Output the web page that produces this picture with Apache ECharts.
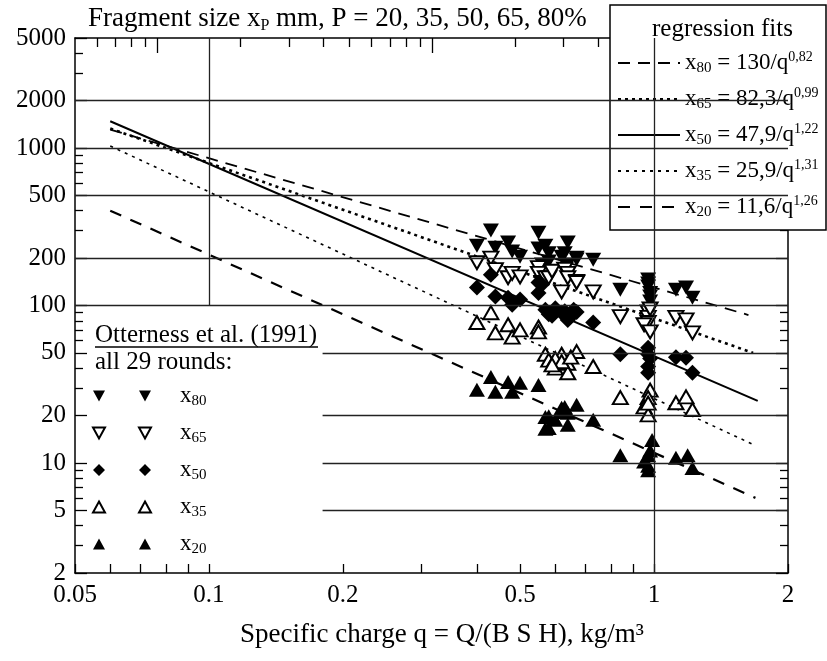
<!DOCTYPE html>
<html><head><meta charset="utf-8">
<script src="https://cdn.jsdelivr.net/npm/echarts@6/dist/echarts.min.js"></script>
<style>html,body{margin:0;padding:0;background:#fff}#c{width:827px;height:661px}</style>
</head><body><div id="c"></div>
<script>
// ---------- axis ticks / labels ----------
const xLabelVals = [0.05, 0.1, 0.2, 0.5, 1, 2];
const xMinorVals = [0.06, 0.07, 0.08, 0.09, 0.3, 0.4, 0.6, 0.7, 0.8, 0.9];
const yLabelVals = [2, 5, 10, 20, 50, 100, 200, 500, 1000, 2000, 5000];
const yMinorVals = [3, 4, 6, 7, 8, 9, 30, 40, 60, 70, 80, 90, 300, 400, 600, 700, 800, 900, 3000, 4000];
const topMajorVals = [1, 10, 100];
const topMinorVals = [0.6, 0.7, 0.8, 0.9, 2, 3, 4, 5, 6, 7, 8, 9, 20, 30, 40, 50, 60, 70, 80, 90];
const xRange = [0.05, 2];
const yRange = [2, 5000];
const topRange = [0.5, 197];
// grid lines
const hGridFull = [100, 200, 500, 1000, 2000];
const hGridPartial = [5, 10, 20, 50];
const hGridPartialStart = 0.18;
const vGrid = [0.1, 1];
const vGridFrom = [100, 2];

// ---------- scatter data (Otterness et al. 1991) ----------
const q80 = [0.40,0.43,0.44,0.47,0.48,0.50,0.55,0.55,0.56,0.57,0.58,0.58,0.62,0.63,0.64,0.64,0.67,0.67,0.73,0.84,0.97,0.97,0.97,0.98,0.98,0.98,1.12,1.18,1.22];
const v80 = [240,300,233,251,220,204,290,230,182,240,215,190,204,215,251,182,201,196,195,126,146,138,132,120,114,106,126,130,112];
const q65 = [0.40,0.43,0.44,0.47,0.48,0.50,0.55,0.55,0.56,0.57,0.58,0.59,0.62,0.63,0.64,0.64,0.67,0.67,0.73,0.84,0.97,0.97,0.97,0.95,0.98,0.98,1.12,1.18,1.22];
const v65 = [187,200,169,150,160,152,174,160,140,150,150,165,122,170,160,150,142,140,122,85,91,84,78,75.5,68,95,84,81,67];
const q50 = [0.40,0.43,0.44,0.47,0.48,0.50,0.55,0.55,0.56,0.57,0.58,0.59,0.62,0.63,0.64,0.65,0.66,0.67,0.73,0.84,0.97,0.97,0.97,0.97,0.98,1.12,1.18,1.22,0.60];
const v50 = [130,157,114,112,101,109,120,140,136,94,88,86,90,92,81,85,94,91,78,49,54,49,41,37.4,46,47,46.5,37.4,96];
const q35 = [0.40,0.43,0.44,0.47,0.48,0.50,0.55,0.57,0.62,0.67,0.64,0.60,0.64,0.73,0.84,0.98,0.97,0.95,0.97,1.12,1.18,1.22,0.58,0.60,0.62,0.97,0.55,0.65,0.59];
const v35 = [78,90,67,75.5,63,70,73,49,49,51,43,40,37.4,41,26,29,26,22.7,20.2,24.1,26.3,21.8,45,46,44,24,68,47,42];
const q20 = [0.40,0.43,0.44,0.47,0.48,0.50,0.55,0.57,0.57,0.58,0.60,0.62,0.62,0.63,0.67,0.64,0.64,0.73,0.84,0.99,0.97,0.95,0.97,0.97,1.12,1.19,1.22,0.98,0.58];
const v20 = [29.2,35.2,28.3,32.7,28.3,32.3,31.3,19.6,16.5,16.7,18.8,22.4,21.1,22.7,23.4,17.5,20.8,18.8,11.2,14.0,11.2,10.2,9.0,9.6,10.8,11.2,9.3,12.0,19.8];

// ---------- regression fit lines (end points) ----------
const fitQ80 = [0.06, 1.63], fitV80 = [1310, 87];
const fitQ65 = [0.06, 1.67], fitV65 = [1330, 50];
const fitQ50 = [0.06, 1.71], fitV50 = [1480, 24.8];
const fitQ35 = [0.06, 1.67], fitV35 = [1030, 13.1];
const fitQ20 = [0.06, 1.69], fitV20 = [400, 6.0];
const fitLabels = [
  'x{s|80} = 130/q{p|0,82}',
  'x{s|65} = 82,3/q{p|0,99}',
  'x{s|50} = 47,9/q{p|1,22}',
  'x{s|35} = 25,9/q{p|1,31}',
  'x{s|20} = 11,6/q{p|1,26}'
];
const fitNames = ['f80','f65','f50','f35','f20'];
const scatterNames = ['x80','x65','x50','x35','x20'];

// ---------- build ----------
const L = Math.log10;
const FF = "'Liberation Serif','DejaVu Serif',serif";
const pts = (qs, vs) => qs.map((q, i) => [L(q), L(vs[i])]);
const fmtX = v => String(parseFloat(Math.pow(10, v).toPrecision(3)));
const fmtY = v => String(Math.round(Math.pow(10, v)));
const blk = '#000';

function tickAxis(pos, range, vals, len, line, labels, labelFmt) {
  return {
    type: 'value', position: pos, min: L(range[0]), max: L(range[1]),
    axisLine: { show: line, onZero: false, lineStyle: { color: blk, width: 1.5 } },
    axisTick: { show: true, inside: true, length: len, customValues: vals.map(L), lineStyle: { color: blk, width: 1.3 } },
    axisLabel: labels ? { show: true, customValues: vals.map(L), formatter: labelFmt, fontFamily: FF, fontSize: 25, color: blk,
      margin: pos === 'left' ? 9 : 10, showMinLabel: true, showMaxLabel: true } : { show: false },
    splitLine: { show: false }
  };
}

const gridSegs = [];
hGridFull.forEach(v => gridSegs.push([{ coord: [L(xRange[0]), L(v)] }, { coord: [L(xRange[1]), L(v)] }]));
hGridPartial.forEach(v => gridSegs.push([{ coord: [L(hGridPartialStart), L(v)] }, { coord: [L(xRange[1]), L(v)] }]));
vGrid.forEach((q, i) => gridSegs.push([{ coord: [L(q), L(vGridFrom[i])] }, { coord: [L(q), L(yRange[1])] }]));

const lineSeries = (name, qs, vs, ls) => ({
  name, type: 'line', data: pts(qs, vs), symbol: 'none', showSymbol: false, z: 2,
  itemStyle: { color: 'rgba(0,0,0,0)' },
  lineStyle: Object.assign({ color: blk }, ls), silent: true
});
const scatterSeries = (name, qs, vs, sym, rot, size, fill) => ({
  name, type: 'scatter', data: pts(qs, vs), symbol: sym, symbolRotate: rot, symbolSize: size, z: 3,
  itemStyle: fill ? { color: blk, opacity: 1 } : { color: '#fff', borderColor: blk, borderWidth: 2, opacity: 1 }
});

const icons = [
  'path://M0,0L12,0L6,11ZM46,0L58,0L52,11Z',
  'path://M0,0L12,0L6,11ZM46,0L58,0L52,11Z',
  'path://M6,0L12,6L6,12L0,6ZM52,0L58,6L52,12L46,6Z',
  'path://M6,0L12,11L0,11ZM52,0L58,11L46,11Z',
  'path://M6,0L12,11L0,11ZM52,0L58,11L46,11Z'
];

const subRich = {
  s: { fontFamily: FF, fontSize: 15, color: blk, verticalAlign: 'bottom', lineHeight: 14 },
  p: { fontFamily: FF, fontSize: 14, color: blk, verticalAlign: 'top', lineHeight: 14 },
  g: { width: 24 }
};
const txt = (size) => ({ fontFamily: FF, fontSize: size, fontWeight: 'normal', color: blk });

const option = {
  animation: false,
  backgroundColor: '#fff',
  grid: { left: 75, top: 38, width: 713, height: 535, containLabel: false },
  xAxis: [
    tickAxis('bottom', xRange, xLabelVals, 9, true, true, fmtX),
    tickAxis('bottom', xRange, xMinorVals, 9, false, false),
    tickAxis('top', topRange, topMajorVals, 15, true, false),
    tickAxis('top', topRange, topMinorVals, 9, false, false)
  ],
  yAxis: [
    tickAxis('left', yRange, yLabelVals, 12, true, true, fmtY),
    tickAxis('left', yRange, yMinorVals, 8, false, false),
    tickAxis('right', yRange, yLabelVals, 12, true, false),
    tickAxis('right', yRange, yMinorVals, 8, false, false)
  ],
  title: [
    { text: 'Fragment size x{s|P} mm, P = 20, 35, 50, 65, 80%', left: 88, top: 4, padding: 0,
      textStyle: Object.assign(txt(27), { lineHeight: 30,
        rich: { s: { fontFamily: FF, fontSize: 16, color: blk, verticalAlign: 'bottom', lineHeight: 16 } } }) },
    { text: 'regression fits', left: 652, top: 17, padding: 0, textStyle: txt(25) },
    { text: 'Otterness et al. (1991)', left: 95, top: 323, padding: 0, textStyle: txt(25) },
    { text: 'all 29 rounds:', left: 95, top: 350, padding: 0, textStyle: txt(25) },
    { text: 'Specific charge q = Q/(B S H), kg/m³', left: 240, top: 621, padding: 0, textStyle: txt(27) }
  ],
  legend: [
    { data: fitNames, left: 617, top: 50, orient: 'vertical', padding: 0, itemWidth: 62, itemHeight: 14, itemGap: 10,
      selectedMode: false, z: 5, itemStyle: { opacity: 0 },
      formatter: n => fitLabels[fitNames.indexOf(n)],
      textStyle: { fontFamily: FF, fontSize: 23, color: blk, lineHeight: 26, rich: subRich } },
    { data: scatterNames.map((n, i) => ({ name: n, icon: icons[i] })), left: 92, top: 383, orient: 'vertical', padding: 0,
      itemWidth: 58, itemHeight: 12, itemGap: 11, selectedMode: false, z: 5,
      formatter: n => '{g|}x{s|' + n.slice(1) + '}',
      textStyle: { fontFamily: FF, fontSize: 23, color: blk, lineHeight: 26, rich: subRich } }
  ],
  graphic: [
    { type: 'rect', shape: { x: 610, y: 5, width: 216, height: 225 }, style: { fill: '#fff', stroke: blk, lineWidth: 1.5 }, z: 3 },
    { type: 'line', shape: { x1: 95, y1: 347, x2: 318, y2: 347 }, style: { stroke: blk, lineWidth: 1.3 }, z: 5 }
  ],
  series: [
    { name: 'grid', type: 'line', data: [], z: 1, silent: true,
      markLine: { silent: true, symbol: ['none', 'none'], label: { show: false }, animation: false,
        lineStyle: { color: '#222', width: 1.3, type: 'solid' }, emphasis: { disabled: true }, data: gridSegs } },
    lineSeries('f80', fitQ80, fitV80, { width: 1.8, type: [12, 8] }),
    lineSeries('f65', fitQ65, fitV65, { width: 2.6, type: [3, 4] }),
    lineSeries('f50', fitQ50, fitV50, { width: 2, type: 'solid' }),
    lineSeries('f35', fitQ35, fitV35, { width: 1.6, type: [3, 5] }),
    lineSeries('f20', fitQ20, fitV20, { width: 2.2, type: [12, 10] }),
    scatterSeries('x80', q80, v80, 'triangle', 180, [16, 14], true),
    scatterSeries('x65', q65, v65, 'triangle', 180, [15, 13], false),
    scatterSeries('x50', q50, v50, 'diamond', 0, [16, 16], true),
    scatterSeries('x35', q35, v35, 'triangle', 0, [15, 13], false),
    scatterSeries('x20', q20, v20, 'triangle', 0, [16, 14], true)
  ]
};
const chart = echarts.init(document.getElementById('c'), null, { renderer: 'canvas' });
chart.setOption(option);
</script></body></html>
